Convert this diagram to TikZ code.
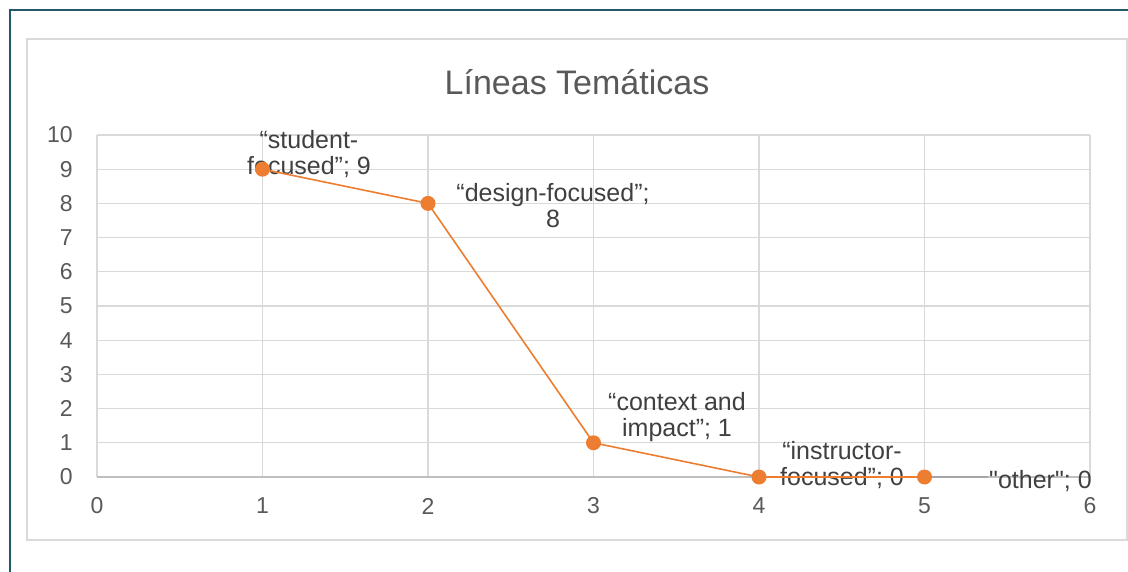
\documentclass[tikz,border=0pt]{standalone}
\usepackage{fontspec}
\setmainfont{Liberation Sans}
\newfontfamily\straightq{Liberation Sans}
\definecolor{frameteal}{HTML}{215968}
\definecolor{gridgray}{HTML}{D9D9D9}
\definecolor{axisgray}{HTML}{BFBFBF}
\definecolor{txtgray}{HTML}{595959}
\definecolor{lbltxt}{HTML}{404040}
\definecolor{xlorange}{HTML}{ED7D31}
\definecolor{leadgray}{HTML}{A6A6A6}
\tikzset{
  gridline/.style={draw=gridgray, line width=1.2pt},
  axisline/.style={draw=axisgray, line width=1.5pt},
  serieslink/.style={draw=xlorange, line width=1.6pt},
  marker/.style={circle, fill=xlorange, draw=none, minimum size=15pt, inner sep=0pt},
  ticklbl/.style={text=txtgray, font=\fontsize{23}{26}\selectfont, inner sep=1pt},
  datalbl/.style={text=lbltxt, font=\fontsize{25}{26}\selectfont, align=center, inner sep=1pt},
  leader/.style={draw=leadgray, line width=1.5pt},
}
\begin{document}
\begin{tikzpicture}[x=1pt, y=-1pt]
\useasboundingbox (0,0) rectangle (1128,572);
\fill[white] (0,0) rectangle (1128,572);
% outer frame (top and left)
\draw[frameteal, line width=1.5pt] (10,572) -- (10,10) -- (1128,10);
% chart area border
\draw[gridgray, line width=1.2pt] (27,39) rectangle (1127,540);
% title
\node[text=txtgray, font=\fontsize{34}{38}\selectfont] (title) at (577,82) {Líneas Temáticas};
\begin{scope}[shift={(97,477)}, x=165.5pt, y=34.2pt]
  \foreach \v in {1,...,10} \draw[gridline] (0,\v) -- (6,\v);
  \foreach \u in {0,...,6} \draw[gridline] (\u,0) -- (\u,10);
  \draw[axisline] (0,0) -- (6,0);
  \foreach \v in {0,...,10} \node[ticklbl, anchor=east] (y\v) at (-0.14,\v) {\v};
  \foreach \u in {0,...,6} \node[ticklbl] (x\u) at (\u,-0.85) {\u};
  \coordinate (c1) at (1,9);
  \coordinate (c2) at (2,8);
  \coordinate (c3) at (3,1);
  \coordinate (c4) at (4,0);
  \coordinate (c5) at (5,0);
\end{scope}
% data labels
\node[datalbl] (l1) at (309,154) {“student-\\focused”; 9};
\node[datalbl] (l2) at (553,206) {“design-focused”;\\8};
\node[datalbl] (l3) at (677,417) {“context and\\impact”; 1};
\node[datalbl] (l4) at (842,465) {“instructor-\\focused”; 0};
\node[datalbl, anchor=west] (l5) at (988,481) {\straightq "other"; 0};
% leader to "other"
\draw[leader] (c5) -- (c5 -| l5.west);
% series line
\draw[serieslink] (c1) -- (c2) -- (c3) -- (c4) -- (c5);
% markers
\node[marker] (p1) at (c1) {};
\node[marker] (p2) at (c2) {};
\node[marker] (p3) at (c3) {};
\node[marker] (p4) at (c4) {};
\node[marker] (p5) at (c5) {};
\end{tikzpicture}
\end{document}
